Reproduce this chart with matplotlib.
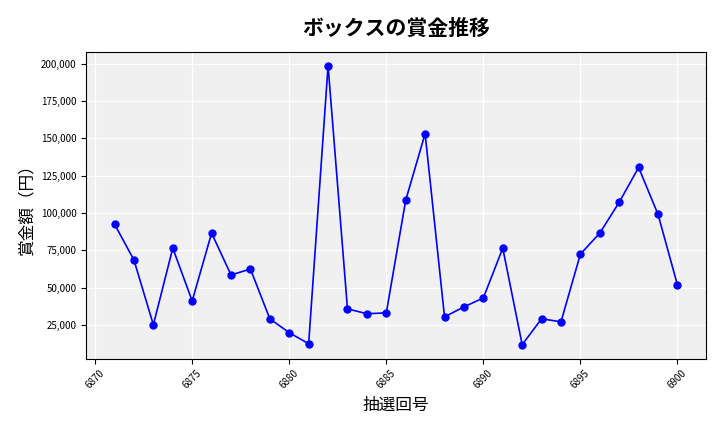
import matplotlib
matplotlib.use("Agg")
import matplotlib.pyplot as plt
from matplotlib.ticker import FuncFormatter

plt.rcParams['font.family'] = ['Noto Sans CJK JP', 'DejaVu Sans']

draws = list(range(6871, 6901))
prizes = [92500, 68400, 25000, 76400, 41000, 86500, 58400, 62400, 29000, 19700,
          12300, 198700, 35700, 32400, 33000, 108500, 153200, 30300, 37000, 43000,
          76400, 11700, 29000, 27000, 72400, 86500, 107200, 130500, 99000, 51700]

fig, ax = plt.subplots(figsize=(7.2, 4.32), dpi=100)
ax.set_facecolor("#f0f0f0")
ax.plot(draws, prizes, color="blue", linewidth=1.2, marker="o", markersize=5)
ax.grid(True, color="white", linewidth=1)
ax.set_axisbelow(True)
ax.set_title("ボックスの賞金推移", fontsize=15, fontweight="bold", pad=12)
ax.set_xlabel("抽選回号", fontsize=12)
ax.set_ylabel("賞金額（円）", fontsize=12)
ax.yaxis.set_major_formatter(FuncFormatter(lambda v, p: f"{int(v):,}"))
ax.tick_params(axis="both", labelsize=7)
plt.setp(ax.get_xticklabels(), rotation=45)
fig.subplots_adjust(left=0.12, right=0.98, top=0.88, bottom=0.17)
fig.savefig("out.png", dpi=100)
